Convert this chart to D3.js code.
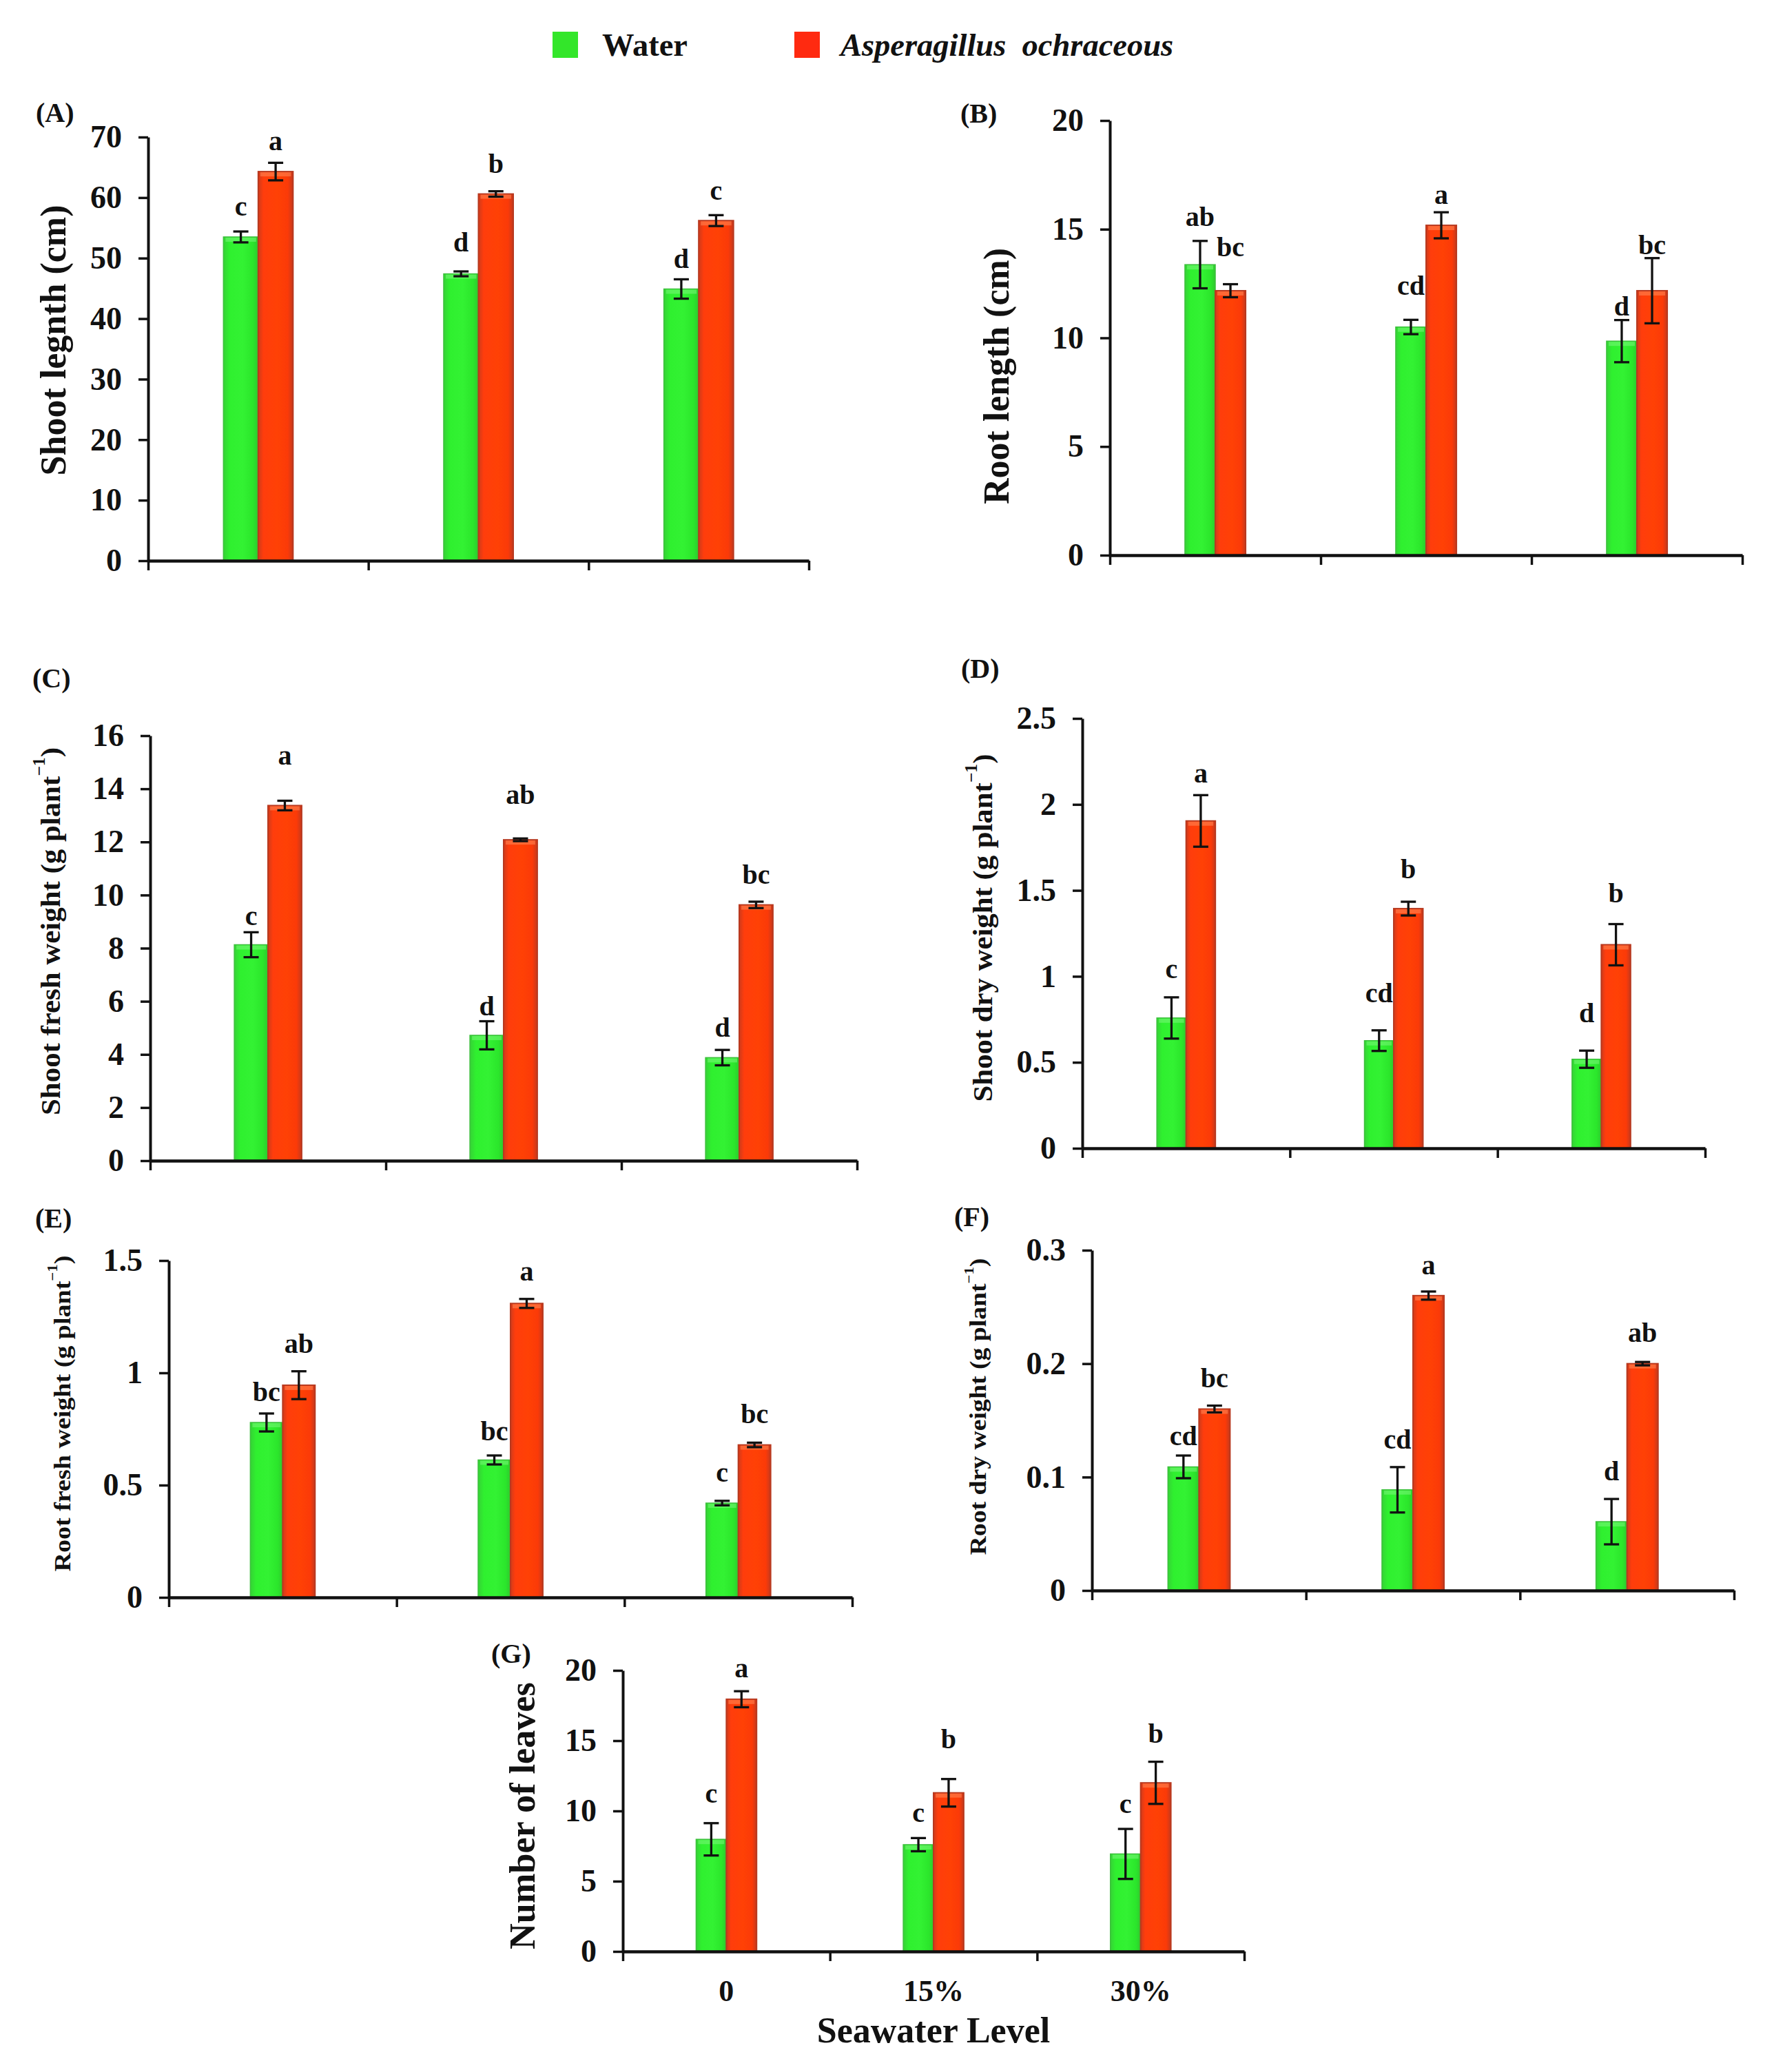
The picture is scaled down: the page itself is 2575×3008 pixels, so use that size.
<!DOCTYPE html>
<html>
<head>
<meta charset="utf-8">
<script src="https://cdn.jsdelivr.net/npm/d3@7"></script>
<style>
  html, body { margin: 0; padding: 0; background: #ffffff; }
  svg { display: block; }
  text { font-family: "Liberation Serif", "Times New Roman", "DejaVu Serif", serif; fill: #111; }
</style>
</head>
<body>
<script>
// ---------------- DATA ----------------
const categories = ["0", "15%", "30%"];
const seriesNames = ["Water", "Asperagillus  ochraceous"];
const xAxisTitle = "Seawater Level";

// (A) Shoot length (cm)
const A_water = [53.5, 47.4, 44.9];
const A_waterSE = [0.9, 0.4, 1.6];
const A_asp = [64.3, 60.6, 56.2];
const A_aspSE = [1.45, 0.45, 0.9];
const A_waterLetters = ["c", "d", "d"];
const A_aspLetters = ["a", "b", "c"];
const A_waterLetterAt = [57.0, 51.1, 48.4];
const A_aspLetterAt = [67.8, 64.1, 59.6];
const A_ticks = [0, 10, 20, 30, 40, 50, 60, 70];
const A_tickLabels = ["0", "10", "20", "30", "40", "50", "60", "70"];

// (B) Root length (cm)
const B_water = [13.37, 10.5, 9.85];
const B_waterSE = [1.09, 0.33, 0.97];
const B_asp = [12.17, 15.18, 12.17];
const B_aspSE = [0.3, 0.6, 1.5];
const B_waterLetters = ["ab", "cd", "d"];
const B_aspLetters = ["bc", "a", "bc"];
const B_waterLetterAt = [15.14, 11.97, 11.02];
const B_aspLetterAt = [13.77, 16.17, 13.85];
const B_ticks = [0, 5, 10, 15, 20];
const B_tickLabels = ["0", "5", "10", "15", "20"];

// (C) Shoot fresh weight (g plant-1)
const C_water = [8.13, 4.72, 3.88];
const C_waterSE = [0.47, 0.53, 0.29];
const C_asp = [13.37, 12.08, 9.63];
const C_aspSE = [0.18, 0.05, 0.12];
const C_waterLetters = ["c", "d", "d"];
const C_aspLetters = ["a", "ab", "bc"];
const C_waterLetterAt = [8.88, 5.48, 4.68];
const C_aspLetterAt = [14.92, 13.42, 10.43];
const C_ticks = [0, 2, 4, 6, 8, 10, 12, 14, 16];
const C_tickLabels = ["0", "2", "4", "6", "8", "10", "12", "14", "16"];

// (D) Shoot dry weight (g plant-1)
const D_water = [0.758, 0.626, 0.518];
const D_waterSE = [0.12, 0.06, 0.05];
const D_asp = [1.904, 1.394, 1.184];
const D_aspSE = [0.15, 0.04, 0.12];
const D_waterLetters = ["c", "cd", "d"];
const D_aspLetters = ["a", "b", "b"];
const D_waterLetterAt = [0.99, 0.851, 0.732];
const D_aspLetterAt = [2.127, 1.569, 1.43];
const D_ticks = [0, 0.5, 1, 1.5, 2, 2.5];
const D_tickLabels = ["0", "0.5", "1", "1.5", "2", "2.5"];

// (E) Root fresh weight (g plant-1)
const E_water = [0.779, 0.612, 0.42];
const E_waterSE = [0.04, 0.02, 0.01];
const E_asp = [0.945, 1.309, 0.679];
const E_aspSE = [0.062, 0.02, 0.01];
const E_waterLetters = ["bc", "bc", "c"];
const E_aspLetters = ["ab", "a", "bc"];
const E_waterLetterAt = [0.875, 0.70, 0.515];
const E_aspLetterAt = [1.09, 1.41, 0.776];
const E_ticks = [0, 0.5, 1, 1.5];
const E_tickLabels = ["0", "0.5", "1", "1.5"];

// (F) Root dry weight (g plant-1)
const F_water = [0.109, 0.0888, 0.0607];
const F_waterSE = [0.01, 0.02, 0.02];
const F_asp = [0.16, 0.26, 0.2];
const F_aspSE = [0.003, 0.0036, 0.0015];
const F_waterLetters = ["cd", "cd", "d"];
const F_aspLetters = ["bc", "a", "ab"];
const F_waterLetterAt = [0.128, 0.125, 0.097];
const F_aspLetterAt = [0.179, 0.279, 0.219];
const F_ticks = [0, 0.1, 0.2, 0.3];
const F_tickLabels = ["0", "0.1", "0.2", "0.3"];

// (G) Number of leaves
const G_water = [7.98, 7.6, 6.94];
const G_waterSE = [1.15, 0.47, 1.78];
const G_asp = [17.95, 11.29, 12.0];
const G_aspSE = [0.57, 0.98, 1.5];
const G_waterLetters = ["c", "c", "c"];
const G_aspLetters = ["a", "b", "b"];
const G_waterLetterAt = [10.6, 9.24, 9.87];
const G_aspLetterAt = [19.5, 14.45, 14.87];
const G_ticks = [0, 5, 10, 15, 20];
const G_tickLabels = ["0", "5", "10", "15", "20"];

// ---------------- PANELS (data + layout) ----------------
const panels = [
  { tag: "(A)", title: "Shoot legnth (cm)", unit: false,
    water: A_water, waterSE: A_waterSE, asp: A_asp, aspSE: A_aspSE,
    wL: A_waterLetters, aL: A_aspLetters, wAt: A_waterLetterAt, aAt: A_aspLetterAt,
    ticks: A_ticks, tickLabels: A_tickLabels,
    L: { x0: 215, x1: 1174, yTop: 199, y0: 814, barFrac: 0.158,
         tx: 77, ty: 494, tlen: 393, tfs: 52, lx: 52, ly: 177 } },
  { tag: "(B)", title: "Root length (cm)", unit: false,
    water: B_water, waterSE: B_waterSE, asp: B_asp, aspSE: B_aspSE,
    wL: B_waterLetters, aL: B_aspLetters, wAt: B_waterLetterAt, aAt: B_aspLetterAt,
    ticks: B_ticks, tickLabels: B_tickLabels,
    L: { x0: 1611, x1: 2529, yTop: 175, y0: 806, barFrac: 0.144,
         tx: 1446, ty: 546, tlen: 372, tfs: 52, lx: 1394, ly: 178 } },
  { tag: "(C)", title: "Shoot fresh weight (g plant", unit: true,
    water: C_water, waterSE: C_waterSE, asp: C_asp, aspSE: C_aspSE,
    wL: C_waterLetters, aL: C_aspLetters, wAt: C_waterLetterAt, aAt: C_aspLetterAt,
    ticks: C_ticks, tickLabels: C_tickLabels,
    L: { x0: 218, x1: 1244, yTop: 1068, y0: 1685, barFrac: 0.143,
         tx: 73, ty: 1352, tlen: 534, tfs: 41, lx: 47, ly: 998 } },
  { tag: "(D)", title: "Shoot dry weight (g plant", unit: true,
    water: D_water, waterSE: D_waterSE, asp: D_asp, aspSE: D_aspSE,
    wL: D_waterLetters, aL: D_aspLetters, wAt: D_waterLetterAt, aAt: D_aspLetterAt,
    ticks: D_ticks, tickLabels: D_tickLabels,
    L: { x0: 1571, x1: 2475, yTop: 1043, y0: 1667, barFrac: 0.141,
         tx: 1426, ty: 1347, tlen: 505, tfs: 41, lx: 1395, ly: 984 } },
  { tag: "(E)", title: "Root fresh weight (g plant", unit: true,
    water: E_water, waterSE: E_waterSE, asp: E_asp, aspSE: E_aspSE,
    wL: E_waterLetters, aL: E_aspLetters, wAt: E_waterLetterAt, aAt: E_aspLetterAt,
    ticks: E_ticks, tickLabels: E_tickLabels,
    L: { x0: 245, x1: 1237, yTop: 1830, y0: 2319, barFrac: 0.142,
         tx: 91, ty: 2052, tlen: 459, tfs: 34, lx: 51, ly: 1782 } },
  { tag: "(F)", title: "Root dry weight (g plant", unit: true,
    water: F_water, waterSE: F_waterSE, asp: F_asp, aspSE: F_aspSE,
    wL: F_waterLetters, aL: F_aspLetters, wAt: F_waterLetterAt, aAt: F_aspLetterAt,
    ticks: F_ticks, tickLabels: F_tickLabels,
    L: { x0: 1585, x1: 2517, yTop: 1815, y0: 2309, barFrac: 0.145,
         tx: 1420, ty: 2042, tlen: 431, tfs: 33, lx: 1385, ly: 1780 } },
  { tag: "(G)", title: "Number of leaves", unit: false, showX: true,
    water: G_water, waterSE: G_waterSE, asp: G_asp, aspSE: G_aspSE,
    wL: G_waterLetters, aL: G_aspLetters, wAt: G_waterLetterAt, aAt: G_aspLetterAt,
    ticks: G_ticks, tickLabels: G_tickLabels,
    L: { x0: 904, x1: 1806, yTop: 2425, y0: 2833, barFrac: 0.146,
         tx: 758, ty: 2636, tlen: 388, tfs: 52, lx: 713, ly: 2414 } }
];

// ---------------- DRAW ----------------
const W = 2575, H = 3008;
const svg = d3.select("body").append("svg").attr("width", W).attr("height", H)
  .attr("viewBox", `0 0 ${W} ${H}`);
svg.append("rect").attr("width", W).attr("height", H).attr("fill", "#ffffff");

const defs = svg.append("defs");
function grad(id, stops) {
  const g = defs.append("linearGradient").attr("id", id)
    .attr("x1", "0%").attr("x2", "100%").attr("y1", "0%").attr("y2", "0%");
  stops.forEach(s => g.append("stop").attr("offset", s[0]).attr("stop-color", s[1]));
}
grad("gGreen", [["0%", "#36d236"], ["18%", "#2ff02f"], ["55%", "#33f233"], ["85%", "#2be62b"], ["100%", "#2fc82f"]]);
grad("gRed", [["0%", "#cf3b1c"], ["15%", "#ff3d0c"], ["55%", "#ff4105"], ["85%", "#fb3a08"], ["100%", "#c53a1e"]]);

const seriesStyle = [
  { fill: "url(#gGreen)", stroke: "#3cbf3c", sw: 1.5 },
  { fill: "url(#gRed)", stroke: "#b8391f", sw: 2 }
];

const FONT_TICK = 46, FONT_LETTER = 40;

panels.forEach(p => {
  const L = p.L;
  const g = svg.append("g");
  const y = d3.scaleLinear().domain([0, d3.max(p.ticks)]).range([L.y0, L.yTop]);
  const x = d3.scaleBand().domain(categories).range([L.x0, L.x1]);
  const xe = d3.scaleLinear().domain([0, categories.length]).range([L.x0, L.x1]);
  const bw = x.bandwidth() * L.barFrac;

  const series = [
    { vals: p.water, se: p.waterSE, letters: p.wL, at: p.wAt, off: -1 },
    { vals: p.asp, se: p.aspSE, letters: p.aL, at: p.aAt, off: 0 }
  ];

  series.forEach((s, si) => {
    const st = seriesStyle[si];
    const rows = categories.map((c, i) => ({
      c, v: s.vals[i], e: s.se[i], lt: s.letters[i], at: s.at[i],
      x: x(c) + x.bandwidth() / 2 + s.off * bw
    }));
    // bars
    g.selectAll(null).data(rows).enter().append("rect")
      .attr("x", d => d.x).attr("width", bw)
      .attr("y", d => y(d.v)).attr("height", d => y(0) - y(d.v))
      .attr("fill", st.fill).attr("stroke", st.stroke).attr("stroke-width", st.sw);
    // top highlight
    g.selectAll(null).data(rows).enter().append("rect")
      .attr("x", d => d.x + 3).attr("width", bw - 6)
      .attr("y", d => y(d.v) + 1).attr("height", 6)
      .attr("fill", si === 0 ? "#7af57a" : "#ff8a5a").attr("opacity", 0.55);
    // error bars
    const eb = g.selectAll(null).data(rows).enter().append("g")
      .attr("stroke", "#111").attr("stroke-width", 3.3);
    eb.append("line").attr("x1", d => d.x + bw / 2).attr("x2", d => d.x + bw / 2)
      .attr("y1", d => y(d.v + d.e)).attr("y2", d => y(d.v - d.e));
    eb.append("line").attr("x1", d => d.x + bw / 2 - 11).attr("x2", d => d.x + bw / 2 + 11)
      .attr("y1", d => y(d.v + d.e)).attr("y2", d => y(d.v + d.e));
    eb.append("line").attr("x1", d => d.x + bw / 2 - 11).attr("x2", d => d.x + bw / 2 + 11)
      .attr("y1", d => y(d.v - d.e)).attr("y2", d => y(d.v - d.e));
    // significance letters
    g.selectAll(null).data(rows).enter().append("text")
      .attr("x", d => d.x + bw / 2).attr("y", d => y(d.at))
      .attr("text-anchor", "middle").attr("font-size", FONT_LETTER).attr("font-weight", "bold")
      .text(d => d.lt);
  });

  // y axis
  const ya = g.append("g").attr("transform", `translate(${L.x0},0)`)
    .call(d3.axisLeft(y).tickValues(p.ticks)
      .tickFormat((d, i) => p.tickLabels[i]).tickSize(14).tickSizeOuter(0).tickPadding(24));
  ya.select(".domain").attr("stroke", "#111").attr("stroke-width", 4);
  ya.selectAll(".tick line").attr("stroke", "#111").attr("stroke-width", 3.5);
  ya.selectAll(".tick text").attr("font-size", FONT_TICK).attr("font-weight", "bold")
    .attr("font-family", "'Liberation Serif', 'Times New Roman', serif").attr("fill", "#111");

  // x axis (ticks at category boundaries)
  const xa = g.append("g").attr("transform", `translate(0,${L.y0})`)
    .call(d3.axisBottom(xe).tickValues(d3.range(categories.length + 1))
      .tickFormat("").tickSize(14).tickSizeOuter(0));
  xa.select(".domain").attr("stroke", "#111").attr("stroke-width", 4.5);
  xa.selectAll(".tick line").attr("stroke", "#111").attr("stroke-width", 3.5);

  if (p.showX) {
    g.selectAll(null).data(categories).enter().append("text")
      .attr("x", d => x(d) + x.bandwidth() / 2).attr("y", L.y0 + 72)
      .attr("text-anchor", "middle").attr("font-size", 44).attr("font-weight", "bold")
      .text(d => d);
    g.append("text").attr("x", (L.x0 + L.x1) / 2).attr("y", L.y0 + 132)
      .attr("text-anchor", "middle").attr("font-size", 52).attr("font-weight", "bold")
      .text(xAxisTitle);
  }

  // y title (rotated, stretched to measured length)
  const t = g.append("text").attr("text-anchor", "middle")
    .attr("font-size", L.tfs).attr("font-weight", "bold").attr("dominant-baseline", "central");
  t.append("tspan").text(p.title);
  if (p.unit) {
    t.append("tspan").attr("font-size", L.tfs * 0.6).attr("dy", -L.tfs * 0.42).text("\u22121");
    t.append("tspan").attr("dy", L.tfs * 0.42).text(")");
  }
  const len = t.node().getComputedTextLength();
  const k = L.tlen / len;
  t.attr("transform", `translate(${L.tx},${L.ty}) rotate(-90) scale(${k},1)`);

  // panel tag
  g.append("text").attr("x", L.lx).attr("y", L.ly)
    .attr("font-size", 40).attr("font-weight", "bold").text(p.tag);
});

// legend
const legend = svg.append("g");
const legendColors = ["#33e62a", "#ff2a10"];
const legendPos = [{ rx: 802, tx: 874 }, { rx: 1153, tx: 1220 }];
seriesNames.forEach((n, i) => {
  legend.append("rect").attr("x", legendPos[i].rx).attr("y", 46).attr("width", 37).attr("height", 38)
    .attr("fill", legendColors[i]);
  legend.append("text").attr("x", legendPos[i].tx).attr("y", 81)
    .attr("font-size", 46.5).attr("font-weight", "bold")
    .attr("font-style", i === 1 ? "italic" : "normal")
    .style("white-space", "pre").text(n);
});
</script>
</body>
</html>
